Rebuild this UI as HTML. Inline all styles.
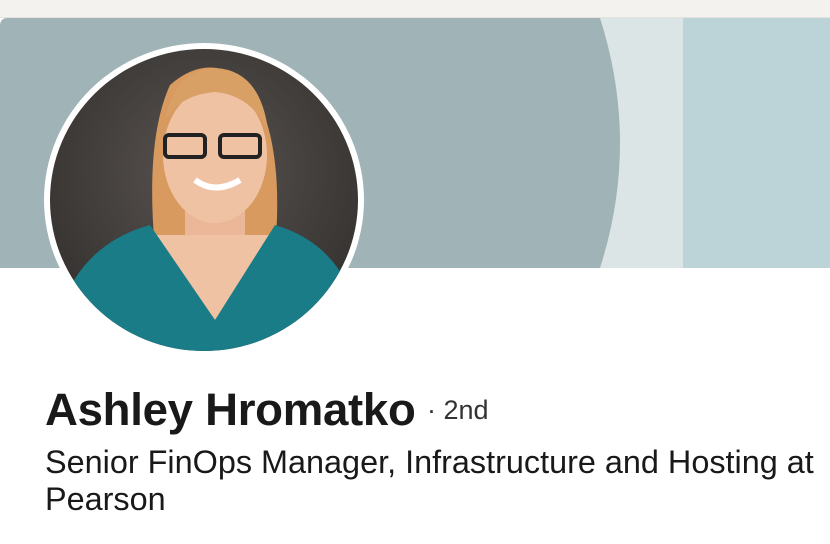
<!DOCTYPE html>
<html><head><meta charset="utf-8"><style>
html,body{margin:0;padding:0;width:830px;height:544px;overflow:hidden;background:#fff;font-family:"Liberation Sans",Arial,sans-serif;}
.top{position:absolute;left:0;top:0;width:830px;height:17px;background:#f3f2ef;border-bottom:1px solid #e4e2dd;}
.name{position:absolute;left:45px;top:384px;font-size:45.6px;font-weight:bold;color:#191919;letter-spacing:-0.3px;white-space:nowrap;}
.deg{position:absolute;left:427px;top:395px;font-size:27px;color:#333;white-space:nowrap;}
.sub{position:absolute;left:45px;top:444px;font-size:32.4px;line-height:37px;color:#191919;width:785px;}
</style></head><body>
<div class="top"></div>
<svg style="position:absolute;left:0;top:0" width="830" height="544">
<defs>
<clipPath id="b"><path d="M8 18 H830 V268 H0 V26 Q0 18 8 18Z"/></clipPath>
<clipPath id="c"><ellipse cx="204" cy="200" rx="154" ry="151"/></clipPath>
<radialGradient id="bg" cx="0.5" cy="0.4" r="0.7"><stop offset="0" stop-color="#5a5450"/><stop offset="1" stop-color="#2c2a29"/></radialGradient>
</defs>
<g clip-path="url(#b)">
<rect x="0" y="18" width="830" height="250" fill="#bcd3d7"/>
<rect x="590" y="18" width="93" height="250" fill="#dbe5e6"/>
<path d="M0 18 H600 Q640 143 600 268 H0Z" fill="#a0b3b7"/>
</g>
<ellipse cx="204" cy="200" rx="160" ry="157" fill="#fff"/>
<g clip-path="url(#c)">
<rect x="44" y="43" width="320" height="320" fill="url(#bg)"/>
<path d="M155 250 Q145 140 170 85 Q210 50 250 85 Q285 140 275 250 Z" fill="#d89a5f"/>
<rect x="185" y="200" width="60" height="60" fill="#ecb698"/>
<path d="M150 235 L215 320 L280 235 Z" fill="#f0c2a4"/>
<ellipse cx="215" cy="155" rx="52" ry="68" fill="#f0c2a4"/>
<path d="M165 120 Q175 70 215 68 Q260 70 268 130 Q250 95 215 92 Q180 95 165 120Z" fill="#d9a066"/>
<rect x="165" y="135" width="40" height="22" rx="4" fill="none" stroke="#222" stroke-width="4"/>
<rect x="220" y="135" width="40" height="22" rx="4" fill="none" stroke="#222" stroke-width="4"/>
<path d="M195 180 Q215 195 240 180" stroke="#fff" stroke-width="6" fill="none"/>
<path d="M50 360 Q60 250 150 225 L215 320 L275 225 Q360 250 365 360Z" fill="#197c87"/>
</g>
</svg>
<div class="name">Ashley Hromatko</div>
<div class="deg">· 2nd</div>
<div class="sub">Senior FinOps Manager, Infrastructure and Hosting at Pearson</div>
</body></html>
